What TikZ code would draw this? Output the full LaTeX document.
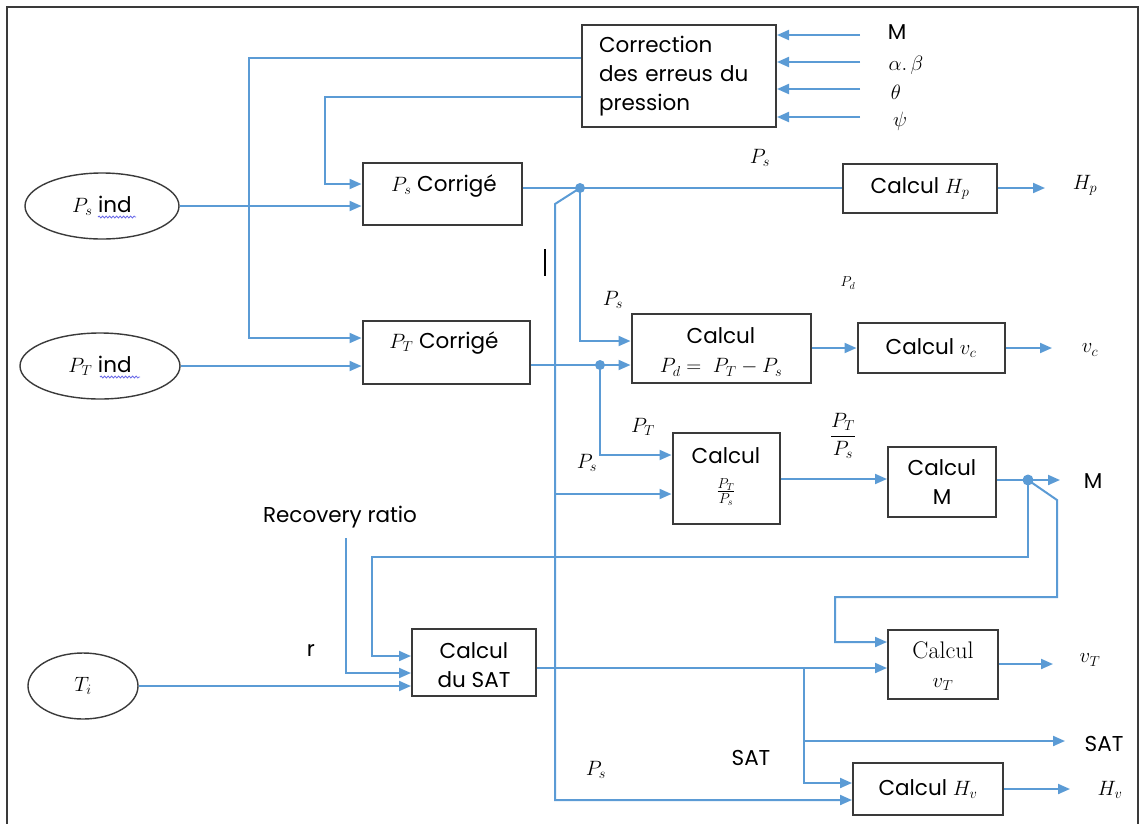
\documentclass[tikz,border=0pt]{standalone}
\usepackage{fontspec}
\newfontfamily\pop{Poppins}
\DeclareMathSizes{21.5}{20.74}{14.4}{10}
\usetikzlibrary{arrows.meta,shapes.geometric,decorations.pathmorphing,calc}
\definecolor{flow}{HTML}{5B9BD5}
\definecolor{edge}{HTML}{3A3A3A}
\definecolor{squig}{HTML}{6A6AE8}
\begin{document}
\begin{tikzpicture}[x=1pt,y=-1pt,
  every node/.style={font=\pop\fontsize{21.5}{29}\selectfont},
  blk/.style={draw=edge,line width=2pt,inner sep=0pt,align=center},
  oval/.style={draw=edge,line width=1.4pt,ellipse,inner sep=0pt},
  wire/.style={draw=flow,line width=2pt},
  arr/.style={wire,-{Triangle[length=12pt,width=10pt]}},
  jdot/.style={circle,fill=flow,inner sep=0pt,minimum size=10pt},
  lbl/.style={inner sep=0pt},
  wavy/.style={draw=squig,line width=0.8pt,decorate,decoration={snake,segment length=3.5pt,amplitude=1pt}}]
\useasboundingbox (0,0) rectangle (1141,823);
% frame
\draw[edge,line width=2pt] (7,830) -- (7,7) -- (1138,7) -- (1138,830);

% blocks
\node[blk,minimum width=194pt,minimum height=102pt,text width=160pt,align=left] (corr) at (679,76) {Correction\\des erreus du\\pression};
\node[blk,minimum width=159pt,minimum height=62pt] (psc) at (442,194) {};
\node[lbl] (psct) at (444,186) {$P_s$ Corrigé};
\node[blk,minimum width=167pt,minimum height=63pt] (ptc) at (446,352) {};
\node[lbl] (ptct) at (444,343) {$P_T$ Corrigé};
\node[blk,minimum width=154pt,minimum height=49pt] (hp) at (920,188) {Calcul $H_p$};
\node[blk,minimum width=179pt,minimum height=69pt] (pd) at (721,348) {};
\node[lbl,align=center] (pdt) at (721,352) {Calcul\\$P_d =\ P_T - P_s$};
\node[blk,minimum width=147pt,minimum height=50pt] (vc) at (931,348) {Calcul $v_c$};
\node[blk,minimum width=107pt,minimum height=91pt] (ptps) at (726,478) {};
\node[lbl] (ptpst1) at (726,456) {Calcul};
\node[lbl] (ptpst2) at (726,492) {$\frac{P_T}{P_s}$};
\node[blk,minimum width=108pt,minimum height=70pt] (m) at (942,482) {Calcul\\M};
\node[blk,minimum width=124pt,minimum height=67pt] (sat) at (474,662) {};
\node[lbl,align=center] (satt) at (474,665) {Calcul\\du SAT};
\node[blk,minimum width=110pt,minimum height=69pt] (vt) at (943,664) {};
\node[lbl,align=center] (vtt) at (943,666) {{\normalfont\fontsize{24}{29}\selectfont Calcul}\\$v_T$};
\node[blk,minimum width=150pt,minimum height=52pt] (hv) at (928,789) {Calcul $H_v$};

% ellipses
\node[oval,minimum width=154pt,minimum height=66pt] (psi) at (102,206) {$P_s$ ind};
\node[oval,minimum width=160pt,minimum height=66pt] (pti) at (100,366) {$P_T$ ind};
\node[oval,minimum width=110pt,minimum height=66pt] (ti) at (83,686) {$T_i$};
\draw[wavy] (98,217) -- (136,217);
\draw[wavy] (100,377) -- (140,377);

% labels
\node[lbl] (lM) at (897,32) {M};
\node[lbl] (lab) at (906,65) {$\alpha.\,\beta$};
\node[lbl] (lth) at (896,92) {$\theta$};
\node[lbl] (lpsi) at (900,121) {$\psi$};
\node[lbl] (lPs1) at (760,158) {$P_s$};
\node[lbl] (lHp) at (1085,185) {$H_p$};
\node[lbl] (lPd) at (848,283) {$\scriptstyle P_d$};
\node[lbl] (lPs2) at (613,300) {$P_s$};
\node[lbl] (lvc) at (1090,350) {$v_c$};
\node[lbl] (lPT) at (643,427) {$P_T$};
\node[lbl] (lPs3) at (587,463) {$P_s$};
\node[lbl] (lfrac) at (843,436) {$\displaystyle\frac{P_T}{P_s}$};
\node[lbl] (lMo) at (1093,481) {M};
\node[lbl] (lrec) at (340,517) {Recovery ratio};
\node[lbl] (lr) at (311,650) {r};
\node[lbl] (lvT) at (1090,660) {$v_T$};
\node[lbl] (lSAT) at (1104,744) {SAT};
\node[lbl] (lSAT2) at (751,758) {SAT};
\node[lbl] (lPs4) at (596,770) {$P_s$};
\node[lbl] (lHv) at (1110,790) {$H_v$};

% junction dots
\node[jdot] (dA) at (580,188) {};
\node[jdot] (dB) at (600,365) {};
\node[jdot,minimum size=11pt] (dC) at (1028,480) {};

% coordinates
\coordinate (k1) at (249,58);
\coordinate (k2) at (325,97);
\coordinate (k3) at (555,204);
\coordinate (k4) at (555,800);
\coordinate (k5) at (555,494);
\coordinate (k6) at (1028,557);
\coordinate (k7) at (372,557);
\coordinate (k8) at (1057,500);
\coordinate (k9) at (1057,597);
\coordinate (k10) at (835,597);
\coordinate (k11) at (346,538);
\coordinate (k12) at (804,668);
\coordinate (k13) at (804,741);
\coordinate (k14) at ($(ptps.east)+(0,1)$);
\coordinate (iM) at (860,35);
\coordinate (iab) at (860,62);
\coordinate (ith) at (860,89);
\coordinate (ipsi) at (860,117);
\coordinate (oHp) at (1045,188);
\coordinate (oVc) at (1052,348);
\coordinate (oM) at (1060,480);
\coordinate (oVt) at (1053,664);
\coordinate (oSat) at (1065,741);
\coordinate (oHv) at (1070,789);
\coordinate (t1) at (545,249);
\coordinate (t2) at (545,276);

% inputs to correction
\draw[arr] (iM) -- (iM -| corr.east);
\draw[arr] (iab) -- (iab -| corr.east);
\draw[arr] (ith) -- (ith -| corr.east);
\draw[arr] (ipsi) -- (ipsi -| corr.east);

% correction outputs
\draw[arr] (corr.west |- k1) -- (k1) |- ($(ptc.west)+(0,-14)$);
\draw[arr] (corr.west |- k2) -- (k2) |- ($(psc.west)+(0,-10)$);

% indicated pressures
\draw[arr] (psi.east) -- (psi.east -| psc.west);
\draw[arr] (pti.east) -- (pti.east -| ptc.west);

% Ps corrected
\draw[wire] (psc.east |- dA) -- (dA -| hp.west);
\draw[arr] (dA.center) |- ($(pd.west)+(0,-7)$);
\draw[arr] (dA.center) -- (k3) -- (k4) -- (k4 -| hv.west);
\draw[arr] (k5) -- (k5 -| ptps.west);

% PT corrected
\draw[arr] (ptc.east |- dB) -- (dB -| pd.west);
\draw[arr] (dB.center) |- ($(ptps.west)+(0,-23)$);

% chain
\draw[arr] (hp.east) -- (oHp);
\draw[arr] (pd.east) -- (pd.east -| vc.west);
\draw[arr] (vc.east) -- (oVc);
\draw[arr] (k14) -- (k14 -| m.west);
\draw[arr] (m.east |- dC) -- (oM);

% Mach feedback
\draw[arr] (dC.center) -- (k6) -- (k7) |- ($(sat.west)+(0,-6)$);
\draw[arr] (dC.center) -- (k8) -- (k9) -- (k10) |- ($(vt.west)+(0,-22)$);

% SAT
\draw[arr] (k11) |- ($(sat.west)+(0,11)$);
\draw[arr] (ti.east) -- (ti.east -| sat.west);
\draw[arr] (sat.east |- k12) -- (k12 -| vt.west);
\draw[arr] (k12) |- ($(hv.west)+(0,-6)$);
\draw[arr] (k13) -- (oSat);
\draw[arr] (vt.east) -- (oVt);
\draw[arr] (hv.east) -- (oHv);

% stray tick
\draw[black,line width=1.5pt] (t1) -- (t2);
\end{tikzpicture}
\end{document}
